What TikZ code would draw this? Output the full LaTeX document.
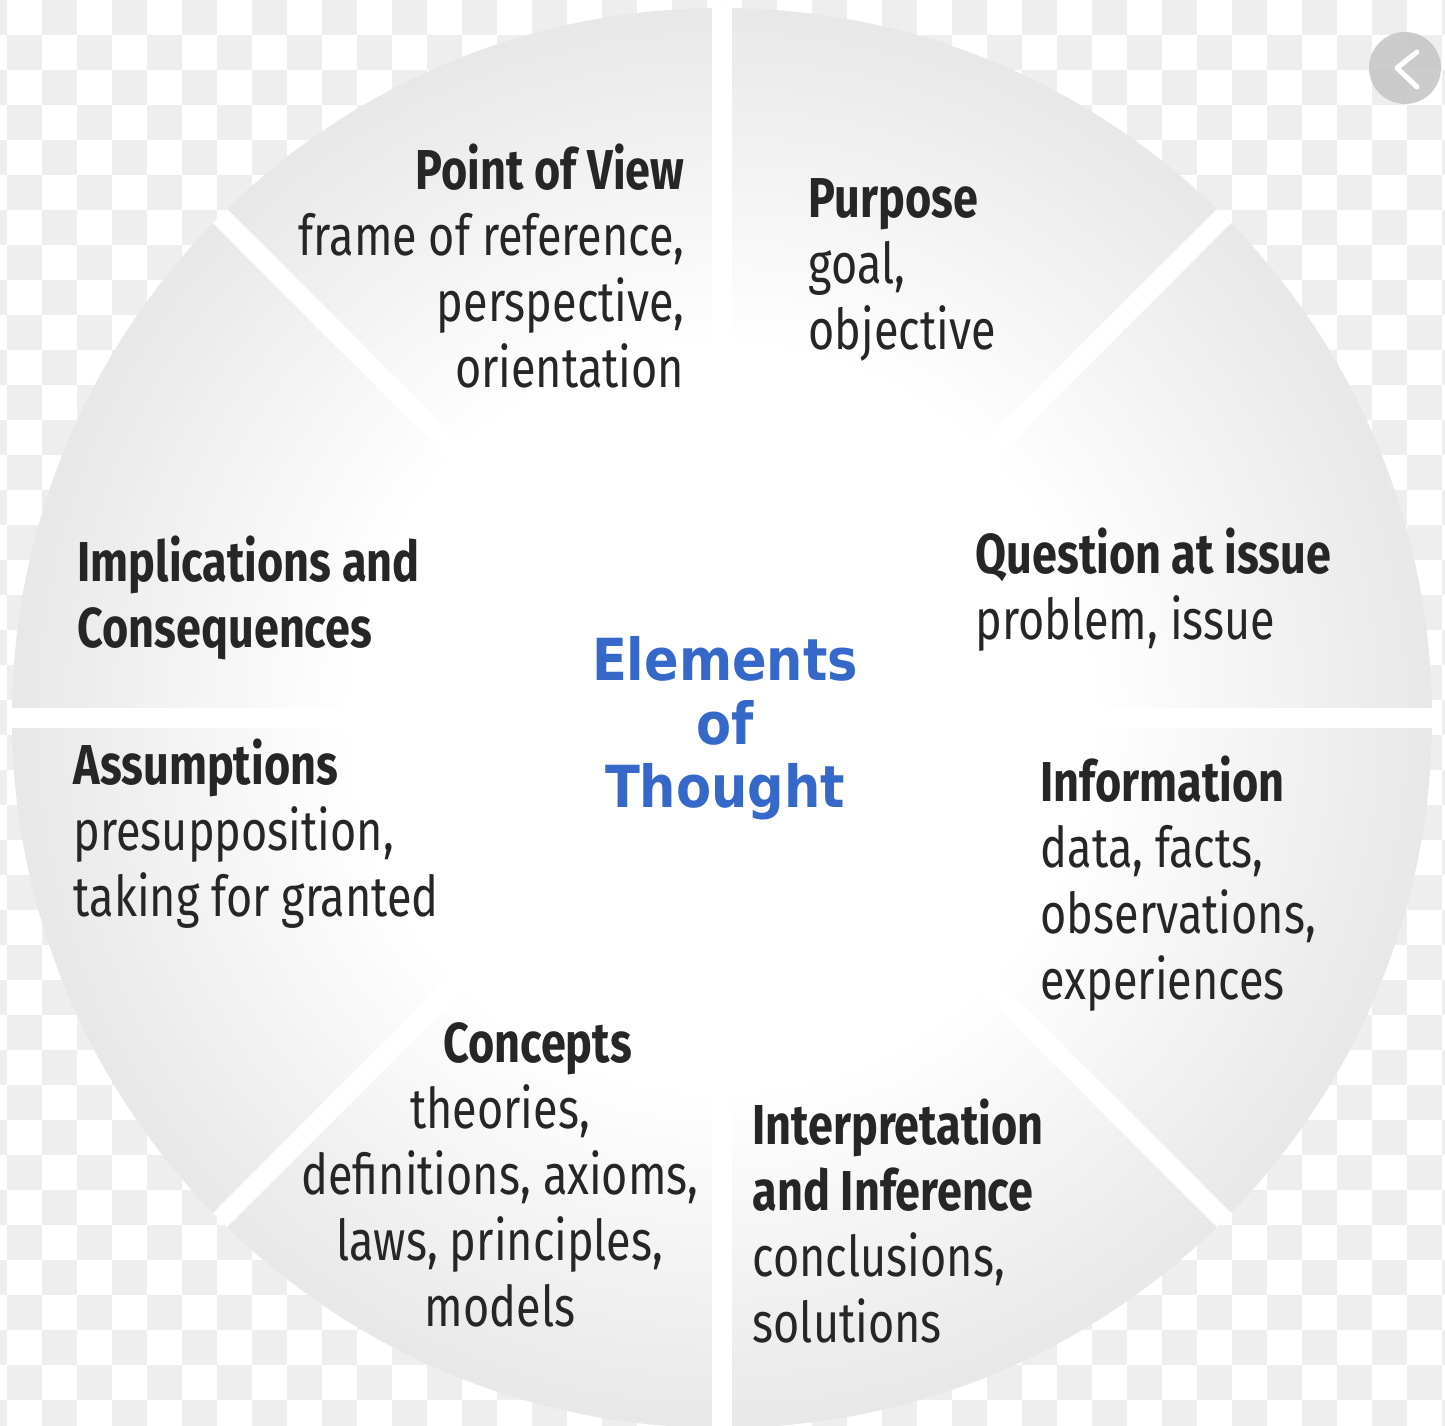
\documentclass[tikz,border=0pt]{standalone}
\usepackage{fontspec}
\setmainfont[FakeStretch=0.8]{Fira Sans}
\newfontfamily\hubfont[FakeStretch=0.88]{DejaVu Sans}
\usetikzlibrary{positioning}
\definecolor{inkgray}{HTML}{262626}
\definecolor{hubblue}{HTML}{3568C8}
\definecolor{wheellight}{HTML}{E4E4E4}
\definecolor{wheelmid}{HTML}{D2D2D2}
\definecolor{wheeledge}{HTML}{C2C2C2}
\definecolor{checkgray}{HTML}{EEEEEE}
\definecolor{btngray}{HTML}{C4C4C4}
\pgfdeclareradialshading{wheelshade}{\pgfpoint{0bp}{0bp}}{color(0bp)=(white); color(13bp)=(white); color(27bp)=(wheellight); color(40bp)=(wheelmid); color(50bp)=(wheeledge); color(72bp)=(wheeledge)}

\begin{document}
\begin{tikzpicture}[
  element/.style={font=\fontsize{16}{18.8}\selectfont, text=inkgray, inner sep=0pt},
  gap/.style={white, line width=0.2cm}
]
\useasboundingbox (0,0) rectangle (14.45,14.26);

% Checkered background
\fill[white] (0,0) rectangle (14.45,14.26);
\foreach \i in {0,2,...,42}
  \foreach \j in {0,2,...,40} {
    \fill[checkgray] (-0.28+0.35*\i,14.26-0.35*\j-0.35) rectangle ++(0.35,0.35);
    \fill[checkgray] (0.07+0.35*\i,14.26-0.35*\j-0.70) rectangle ++(0.35,0.35);
  }

% Wheel with eight slices
\coordinate (hub) at (7.22,7.08);
\shade[shading=wheelshade] (hub) circle (7.1);
\foreach \a in {0,45,...,315}
  \draw[gap] (hub) -- ++(\a:7.1);

% Slice texts
\node[element, anchor=base east, align=right] (view) at (6.85,10.38)
  {\textbf{Point of View}\\frame of reference,\\perspective,\\orientation};
\node[element, anchor=base west, align=left] (purpose) at (8.08,10.76)
  {\textbf{Purpose}\\goal,\\objective};
\node[element, anchor=base west, align=left] (question) at (9.75,7.86)
  {\textbf{Question at issue}\\problem, issue};
\node[element, anchor=base west, align=left] (information) at (10.40,4.26)
  {\textbf{Information}\\data, facts,\\observations,\\experiences};
\node[element, anchor=base west, align=left] (inference) at (7.52,0.83)
  {\textbf{Interpretation}\\\textbf{and Inference}\\conclusions,\\solutions};
\node[element, anchor=base, align=center] (concepts) at (5.00,0.99)
  {\hspace*{0.75cm}\textbf{Concepts}\\theories,\\definitions, axioms,\\laws, principles,\\models};
\node[element, anchor=base west, align=left] (assumptions) at (0.73,5.09)
  {\textbf{Assumptions}\\presupposition,\\taking for granted};
\node[element, anchor=base west, align=left] (implications) at (0.77,7.78)
  {\textbf{Implications and}\\\textbf{Consequences}};

% Centre title
\node[anchor=base, align=center, text=hubblue, inner sep=0pt,
  font=\hubfont\bfseries\fontsize{16.5}{18.2}\selectfont] (title) at (7.25,6.18)
  {Elements\\of\\Thought};

% Back button
\fill[btngray, opacity=0.85] (14.05,13.58) circle (0.36);
\draw[white, line width=0.05cm, line cap=round, line join=round]
  (14.17,13.74) -- (13.97,13.58) -- (14.17,13.39);
\end{tikzpicture}
\end{document}
